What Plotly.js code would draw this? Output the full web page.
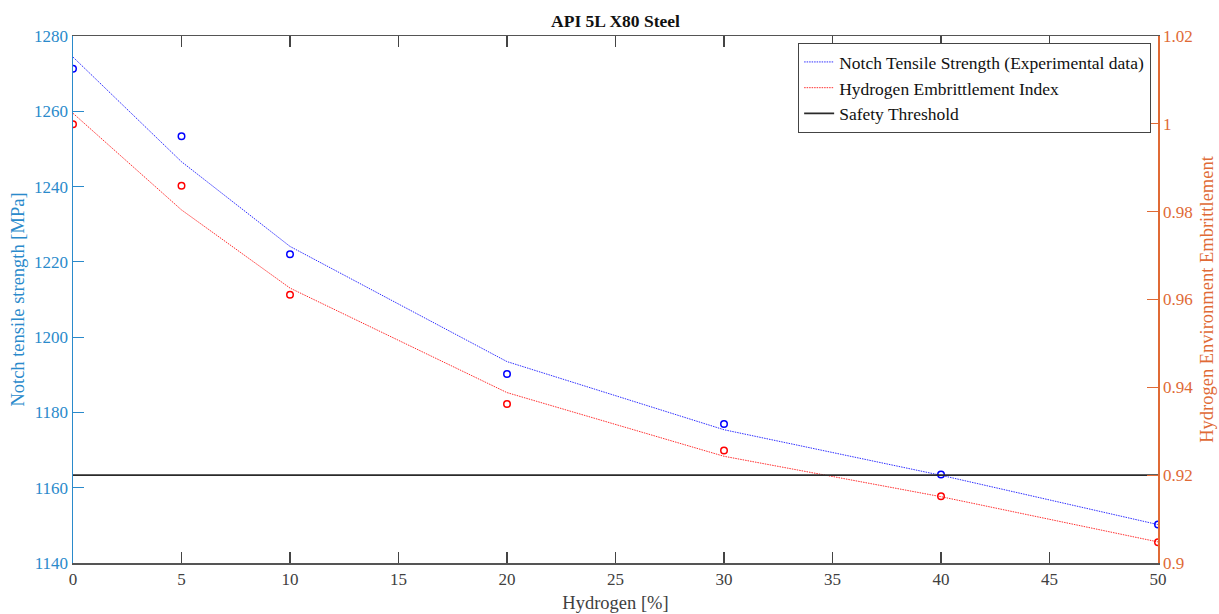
<!DOCTYPE html>
<html>
<head>
<meta charset="utf-8">
<script src="https://cdn.plot.ly/plotly-3.0.1.min.js"></script>
<style>html,body{margin:0;padding:0;background:#fff;}#chart{width:1219px;height:614px;}</style>
</head>
<body>
<div id="chart"></div>
<script>
// Data
var hydrogen = [0, 5, 10, 20, 30, 40, 50];
var ntsData = [1271.3, 1253.4, 1222.0, 1190.2, 1176.9, 1163.5, 1150.2];
var ntsFit  = [1274.4, 1246.6, 1224.1, 1193.5, 1175.4, 1163.3, 1150.2];
var heiData = [0.9999, 0.9859, 0.9611, 0.9362, 0.9256, 0.9152, 0.9047];
var heiFit  = [1.0024, 0.9804, 0.9626, 0.9388, 0.9243, 0.9151, 0.9048];
var thresholdX = [0, 50];
var thresholdY = [0.92, 0.92];
var xTicks = [0, 5, 10, 15, 20, 25, 30, 35, 40, 45, 50];
var leftTicks = [1140, 1160, 1180, 1200, 1220, 1240, 1260, 1280];
var rightTicks = [0.9, 0.92, 0.94, 0.96, 0.98, 1, 1.02];
var rightTickText = ['0.9', '0.92', '0.94', '0.96', '0.98', '1', '1.02'];

var FONT = 'Liberation Serif, DejaVu Serif, serif';
var BLUE_AX = '#2a8acb';
var ORANGE_AX = '#e06a35';

var traces = [
  {x: hydrogen, y: ntsFit, type: 'scatter', mode: 'lines', name: 'Notch Tensile Strength (Experimental data)',
   line: {color: '#2f2fff', width: 1, dash: '1.5px,1px'}, yaxis: 'y'},
  {x: hydrogen, y: heiFit, type: 'scatter', mode: 'lines', name: 'Hydrogen Embrittlement Index',
   line: {color: '#ff2f2f', width: 1, dash: '1.5px,1px'}, yaxis: 'y2'},
  {x: thresholdX, y: thresholdY, type: 'scatter', mode: 'lines', name: 'Safety Threshold',
   line: {color: '#2a2a2a', width: 1.7}, yaxis: 'y2'},
  {x: hydrogen, y: ntsData, type: 'scatter', mode: 'markers', showlegend: false,
   marker: {symbol: 'circle-open', size: 6.5, color: '#0000ff', line: {width: 1.5, color: '#0000ff'}}, yaxis: 'y'},
  {x: hydrogen, y: heiData, type: 'scatter', mode: 'markers', showlegend: false,
   marker: {symbol: 'circle-open', size: 6.5, color: '#ff0000', line: {width: 1.5, color: '#ff0000'}}, yaxis: 'y2'}
];

var layout = {
  width: 1219, height: 614,
  margin: {l: 73, r: 61, t: 36, b: 51, pad: 0},
  paper_bgcolor: '#ffffff', plot_bgcolor: '#ffffff',
  font: {family: FONT, size: 17, color: '#404040'},
  title: {text: '<b>API 5L X80 Steel</b>', x: 0.5, xref: 'paper', xanchor: 'center',
          y: 1, yref: 'paper', yanchor: 'bottom', pad: {b: 9},
          font: {family: FONT, size: 17.5, color: '#111111'}},
  showlegend: true,
  legend: {x: 0.9935, xanchor: 'right', y: 0.987, yanchor: 'top', bgcolor: '#ffffff',
           bordercolor: '#444444', borderwidth: 1.2, font: {family: FONT, size: 17.5, color: '#111111'},
           tracegroupgap: 0, itemwidth: 30},
  xaxis: {range: [0, 50], tickvals: xTicks, ticks: 'inside', ticklen: 11, tickwidth: 1.2,
          tickcolor: '#444444', showline: true, linecolor: '#555555', linewidth: 1.5, mirror: 'ticks',
          showgrid: false, zeroline: false, tickfont: {family: FONT, size: 17, color: '#404040'},
          title: {text: 'Hydrogen [%]', standoff: 8, font: {family: FONT, size: 18.5, color: '#404040'}}},
  yaxis: {range: [1140, 1280], tickvals: leftTicks, ticks: 'inside', ticklen: 11, tickwidth: 1.2,
          tickcolor: BLUE_AX, showline: true, linecolor: BLUE_AX, linewidth: 1.5,
          showgrid: false, zeroline: false, tickfont: {family: FONT, size: 17, color: BLUE_AX},
          title: {text: 'Notch tensile strength [MPa]', standoff: 4, font: {family: FONT, size: 18.5, color: BLUE_AX}}},
  yaxis2: {range: [0.9, 1.02], tickvals: rightTicks, ticktext: rightTickText, overlaying: 'y', side: 'right',
           ticks: 'inside', ticklen: 11, tickwidth: 1.2, tickcolor: ORANGE_AX, showline: true,
           linecolor: ORANGE_AX, linewidth: 1.5, showgrid: false, zeroline: false,
           tickfont: {family: FONT, size: 17, color: ORANGE_AX},
           title: {text: 'Hydrogen Environment Embrittlement', standoff: 8, font: {family: FONT, size: 18.5, color: ORANGE_AX}}}
};

Plotly.newPlot('chart', traces, layout, {displayModeBar: false, staticPlot: true});
</script>
</body>
</html>
